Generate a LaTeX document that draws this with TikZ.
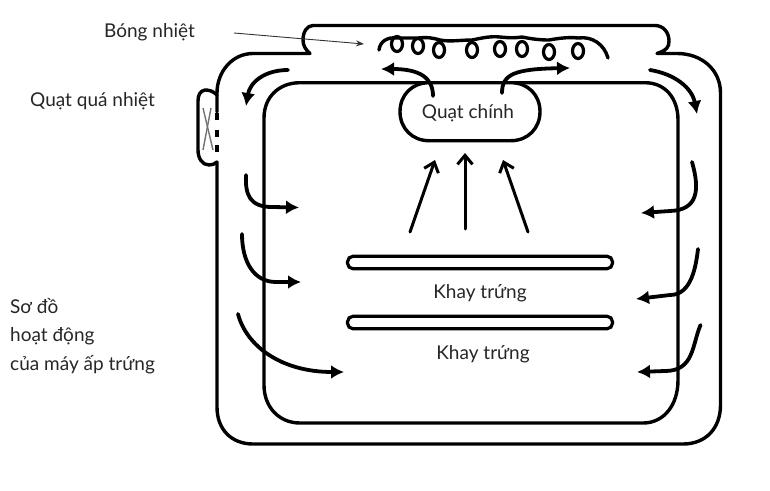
\documentclass[tikz,border=0pt]{standalone}
\usepackage{fontspec}
\setmainfont{Lato}
\usetikzlibrary{arrows.meta,calc}
\tikzset{
  wall/.style={draw=black,line width=3.4pt,line join=round,line cap=round},
  flow/.style={draw=black,line width=3.8pt,line cap=round,-{Latex[length=13pt,width=14pt]}},
  upflow/.style={draw=black,line width=3pt,line cap=round,-{Straight Barb[length=9pt,width=15pt,line width=3pt]}},
  coil/.style={draw=black,line width=3.4pt,line cap=round,line join=round},
  tray/.style={draw=black,line width=3.2pt,rounded corners=5.5pt,fill=white},
  lbl/.style={font=\fontsize{19}{19}\selectfont,text=black!85,inner sep=0pt},
  crossline/.style={draw=black!55,line width=1.4pt},
  leader/.style={draw=black!80,line width=.9pt,-{Stealth[length=8pt,width=6pt]}}
}
\begin{document}
\begin{tikzpicture}[x=1pt,y=-1pt]
\useasboundingbox (0,0) rectangle (770,490);
% outer housing
\draw[wall] (217,162) -- (217,407) .. controls (217,430) and (232,444) .. (253,444)
  -- (683,444) .. controls (706,444) and (720.5,428) .. (720.5,405)
  -- (720.5,93) .. controls (720.5,70) and (702,53.5) .. (677,53.5)
  -- (657,53.5) .. controls (667,50) and (669,47) .. (669,41)
  .. controls (669,32) and (663,25.5) .. (655,25.5)
  -- (313,25.5) .. controls (307,25.5) and (303,32) .. (303,40)
  .. controls (303,46) and (306,50) .. (310,53.5)
  -- (253,53.5) .. controls (232,53.5) and (217,72) .. (217,93) -- (217,112);
% vent dashes
\foreach \ya/\yb in {113/120,130/137,145/152} \draw[draw=black,line width=3.4pt] (217,\ya) -- (217,\yb);
% overheat fan housing
\draw[wall] (217,95) .. controls (213,91) and (209,90) .. (205,90)
  .. controls (200,91) and (198,95) .. (198,101) -- (198,150)
  .. controls (198,158) and (202,165) .. (209,165) .. controls (212,165) and (215,164) .. (217,162);
\draw[crossline] (203,108) -- (213,150);
\draw[crossline] (211,108) -- (203,150);
% inner chamber
\draw[wall] (300,82.7) -- (645,82.7) .. controls (665,82.7) and (678,98) .. (678,120)
  -- (678,380) .. controls (678,405) and (664,423) .. (643,423)
  -- (300,423) .. controls (279,423) and (264,407) .. (264,385)
  -- (264,118) .. controls (264,97) and (279,82.7) .. (300,82.7) -- cycle;
% main fan
\draw[wall,fill=white] (429,82.7) -- (511,82.7) .. controls (528,82.7) and (540,95) .. (540,111.7)
  .. controls (540,128) and (528,140.7) .. (511,140.7) -- (429,140.7)
  .. controls (412,140.7) and (400,128) .. (400,111.7) .. controls (400,95) and (412,82.7) .. (429,82.7) -- cycle;
\node[lbl] (mainfan) at (468,113) {Quạt chính};
% trays
\node[tray,minimum width=265pt,minimum height=12.5pt,inner sep=0pt] (tray1) at (480,262.5) {};
\node[tray,minimum width=265pt,minimum height=12.5pt,inner sep=0pt] (tray2) at (480,322.5) {};
\node[lbl] (traylabel1) at (480,293) {Khay trứng};
\node[lbl] (traylabel2) at (483,354) {Khay trứng};
% coil
\draw[coil] (379,50) .. controls (380,41) and (388,37) .. (396,38)
  .. controls (405,38) and (411,38) .. (418,38) .. controls (428,37) and (433,38) .. (440,40)
  .. controls (450,42) and (460,40) .. (472,40) .. controls (482,38) and (490,36) .. (500,37)
  .. controls (510,38) and (515,38) .. (522,37) .. controls (532,39) and (540,40) .. (549,40)
  .. controls (560,38) and (570,37) .. (578,38) .. controls (592,36) and (604,44) .. (608,58);
\foreach \cx/\cy in {397/44,418/46,439/50,472/50,500/49,522/49,549/52,578/51}
  \draw[coil,line width=3.2pt] (\cx,\cy) ellipse [x radius=5.5pt,y radius=7.5pt];
% leader and labels
\node[lbl,anchor=west] (bong) at (104,32) {Bóng nhiệt};
\node[lbl,anchor=west] (quaqua) at (30,101) {Quạt quá nhiệt};
\node[lbl,anchor=west] (cap1) at (10,306) {Sơ đồ};
\node[lbl,anchor=west] (cap2) at (10,336) {hoạt động};
\node[lbl,anchor=west] (cap3) at (10,365) {của máy ấp trứng};
\coordinate (leadS) at (234,33);
\coordinate (leadE) at (364,44);
\draw[leader] (leadS) -- (leadE);
% up arrows
\coordinate (u1s) at (410,232); \coordinate (u1e) at (435,160);
\coordinate (u2s) at (465,229); \coordinate (u2e) at (465,153);
\coordinate (u3s) at (528,232); \coordinate (u3e) at (503,160);
\draw[upflow] (u1s) -- (u1e);
\draw[upflow] (u2s) -- (u2e);
\draw[upflow] (u3s) -- (u3e);
% air flows
\draw[flow] (288,70) .. controls (265,70) and (250,82) .. (246,106);
\draw[flow] (433,96) .. controls (433,78) and (420,69) .. (381,69);
\draw[flow] (502,93) .. controls (502,74) and (515,69) .. (570,68);
\draw[flow] (650,70) .. controls (675,74) and (692,88) .. (697,114);
\draw[flow] (246,175) .. controls (245,195) and (250,207) .. (272,207) -- (299,207.5);
\draw[flow] (242,234) .. controls (242,262) and (254,282) .. (276,282) -- (301,282);
\draw[flow] (238,314) .. controls (246,345) and (280,372) .. (344,372);
\draw[flow] (692,162) .. controls (700,190) and (698,210) .. (670,211) -- (641,213);
\draw[flow] (698,249) .. controls (696,265) and (692,295) .. (670,295) -- (636,299);
\draw[flow] (700.5,325) .. controls (692,345) and (694,371) .. (665,371) -- (637,372);
\end{tikzpicture}
\end{document}
